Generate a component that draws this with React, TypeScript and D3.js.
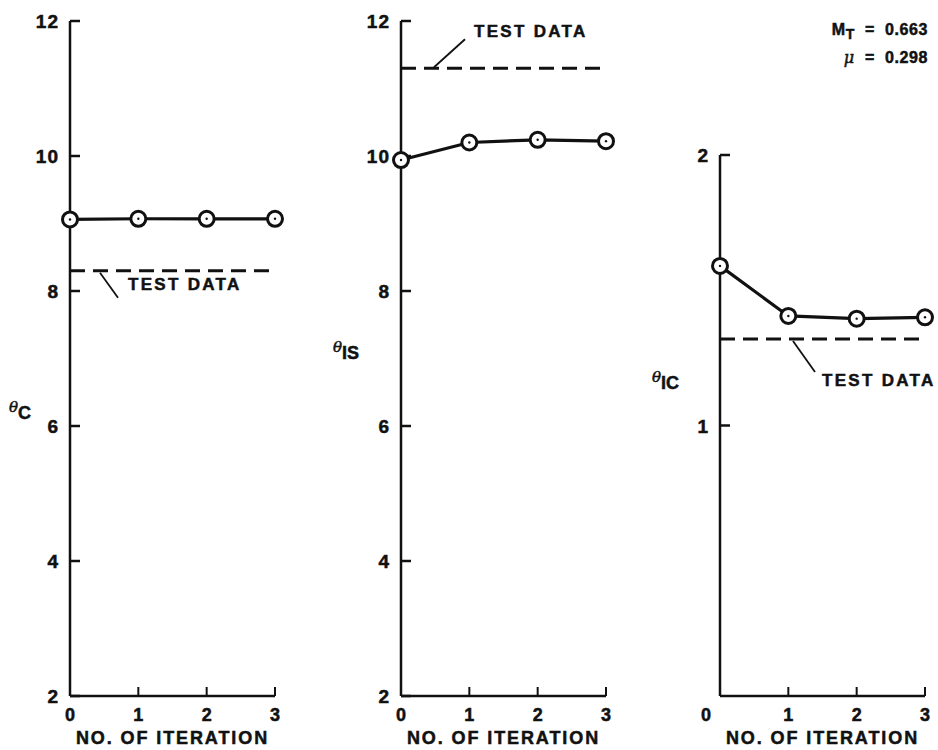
import React from "react";
import * as d3 from "d3";

const iterations = [0, 1, 2, 3];
const thetaC = [9.06, 9.07, 9.07, 9.07];
const thetaIS = [9.94, 10.2, 10.24, 10.22];
const thetaIC = [1.59, 1.405, 1.395, 1.4];
const testC = 8.3;
const testIS = 11.3;
const testIC = 1.32;
const ticksC = [2, 4, 6, 8, 10, 12];
const ticksIS = [2, 4, 6, 8, 10, 12];
const ticksIC = [1, 2];

const FONT = "'Liberation Sans', Arial, sans-serif";
const SP = "\u00a0\u00a0";

type PanelProps = {
  x0: number;
  x3: number;
  yTop: number;
  yBottom: number;
  domain: [number, number];
  ticks: number[];
  values: number[];
  test: number;
  sub: string;
  labelX: number;
  labelY: number;
  note: { dx1: number; dy1: number; dx2: number; dy2: number; tx: number; ty: number };
  zeroShift?: number;
};

function Panel(p: PanelProps) {
  const x = d3.scaleLinear().domain([0, 3]).range([p.x0, p.x3]);
  const y = d3.scaleLinear().domain(p.domain).range([p.yBottom, p.yTop]);
  const line = d3
    .line<number>()
    .x((_, i) => x(iterations[i]))
    .y((d) => y(d));
  const yt = y(p.test);
  return (
    <g fontFamily={FONT} fontWeight="bold" fill="#111" stroke="#111" strokeWidth={0.5}>
      {/* axes */}
      <line x1={x(0)} x2={x(0)} y1={p.yTop} y2={p.yBottom} strokeWidth={2.5} />
      <line x1={x(0)} x2={x(3)} y1={p.yBottom} y2={p.yBottom} strokeWidth={2.5} />
      {p.ticks.map((t) => (
        <g key={t}>
          <line x1={x(0)} x2={x(0) + 10} y1={y(t)} y2={y(t)} strokeWidth={2.5} />
          <text x={x(0) - 11} y={y(t) + 7} textAnchor="end" fontSize={19} letterSpacing={1}>
            {t}
          </text>
        </g>
      ))}
      {iterations.map((it) => (
        <g key={it}>
          {it > 0 && <line x1={x(it)} x2={x(it)} y1={p.yBottom} y2={p.yBottom - 9} strokeWidth={2} />}
          <text
            x={x(it) - (it === 0 && p.zeroShift ? p.zeroShift : 0)}
            y={p.yBottom + 25}
            textAnchor="middle"
            fontSize={18}
          >
            {it}
          </text>
        </g>
      ))}
      <text x={(x(0) + x(3)) / 2} y={p.yBottom + 48} textAnchor="middle" fontSize={18} letterSpacing={1.9}>
        NO. OF ITERATION
      </text>
      {/* y label */}
      <text x={p.labelX} y={p.labelY} fontSize={18}>
        <tspan fontStyle="italic" fontWeight="normal" fontSize={15} fontFamily="'DejaVu Serif', serif" dy={-4}>
          θ
        </tspan>
        <tspan dy={7}>{p.sub}</tspan>
      </text>
      {/* test data */}
      <line x1={x(0)} x2={x(3) + 2} y1={yt} y2={yt} strokeWidth={3} strokeDasharray="15,8" fill="none" />
      <line
        x1={x(0) + p.note.dx1}
        y1={yt + p.note.dy1}
        x2={x(0) + p.note.dx2}
        y2={yt + p.note.dy2}
        strokeWidth={1.8}
      />
      <text x={x(0) + p.note.tx} y={yt + p.note.ty} fontSize={17} letterSpacing={2.3}>
        TEST DATA
      </text>
      {/* series */}
      <path d={line(p.values) || ""} fill="none" strokeWidth={3.2} />
      {p.values.map((v, i) => (
        <g key={i}>
          <circle cx={x(iterations[i])} cy={y(v)} r={7.5} fill="#fff" strokeWidth={3} />
          <circle cx={x(iterations[i])} cy={y(v)} r={1.2} fill="#111" stroke="none" />
        </g>
      ))}
    </g>
  );
}

export default function App() {
  return (
    <svg width={938} height={750} style={{ position: "absolute", left: 0, top: 0, background: "#fff" }}>
      <rect width={938} height={750} fill="#fff" />
      <Panel
        x0={70}
        x3={275}
        yTop={21}
        yBottom={696}
        domain={[2, 12]}
        ticks={ticksC}
        values={thetaC}
        test={testC}
        sub="C"
        labelX={9}
        labelY={416}
        note={{ dx1: 30, dy1: 2, dx2: 48, dy2: 27, tx: 58, ty: 19 }}
      />
      <Panel
        x0={401}
        x3={606}
        yTop={21}
        yBottom={696}
        domain={[2, 12]}
        ticks={ticksIS}
        values={thetaIS}
        test={testIS}
        sub="IS"
        labelX={333}
        labelY={356}
        note={{ dx1: 33, dy1: -1, dx2: 64, dy2: -29, tx: 73, ty: -31 }}
      />
      <Panel
        x0={720}
        x3={925}
        yTop={155}
        yBottom={696}
        domain={[0, 2]}
        ticks={ticksIC}
        values={thetaIC}
        test={testIC}
        sub="IC"
        labelX={652}
        labelY={386}
        note={{ dx1: 73, dy1: 2, dx2: 95, dy2: 33, tx: 102, ty: 47 }}
        zeroShift={14}
      />
      <g fontFamily={FONT} fontWeight="bold" fontSize={16} fill="#111" stroke="#111" strokeWidth={0.5} textAnchor="end">
        <text x={928} y={35} letterSpacing={0.6}>
          M<tspan fontSize={14} dy={4}>T</tspan>
          <tspan dy={-4}>{`${SP}=${SP}0.663`}</tspan>
        </text>
        <text x={928} y={63} letterSpacing={0.6}>
          <tspan fontStyle="italic" fontWeight="normal" fontFamily="'DejaVu Serif', serif">
            μ
          </tspan>
          {`${SP}=${SP}0.298`}
        </text>
      </g>
    </svg>
  );
}
